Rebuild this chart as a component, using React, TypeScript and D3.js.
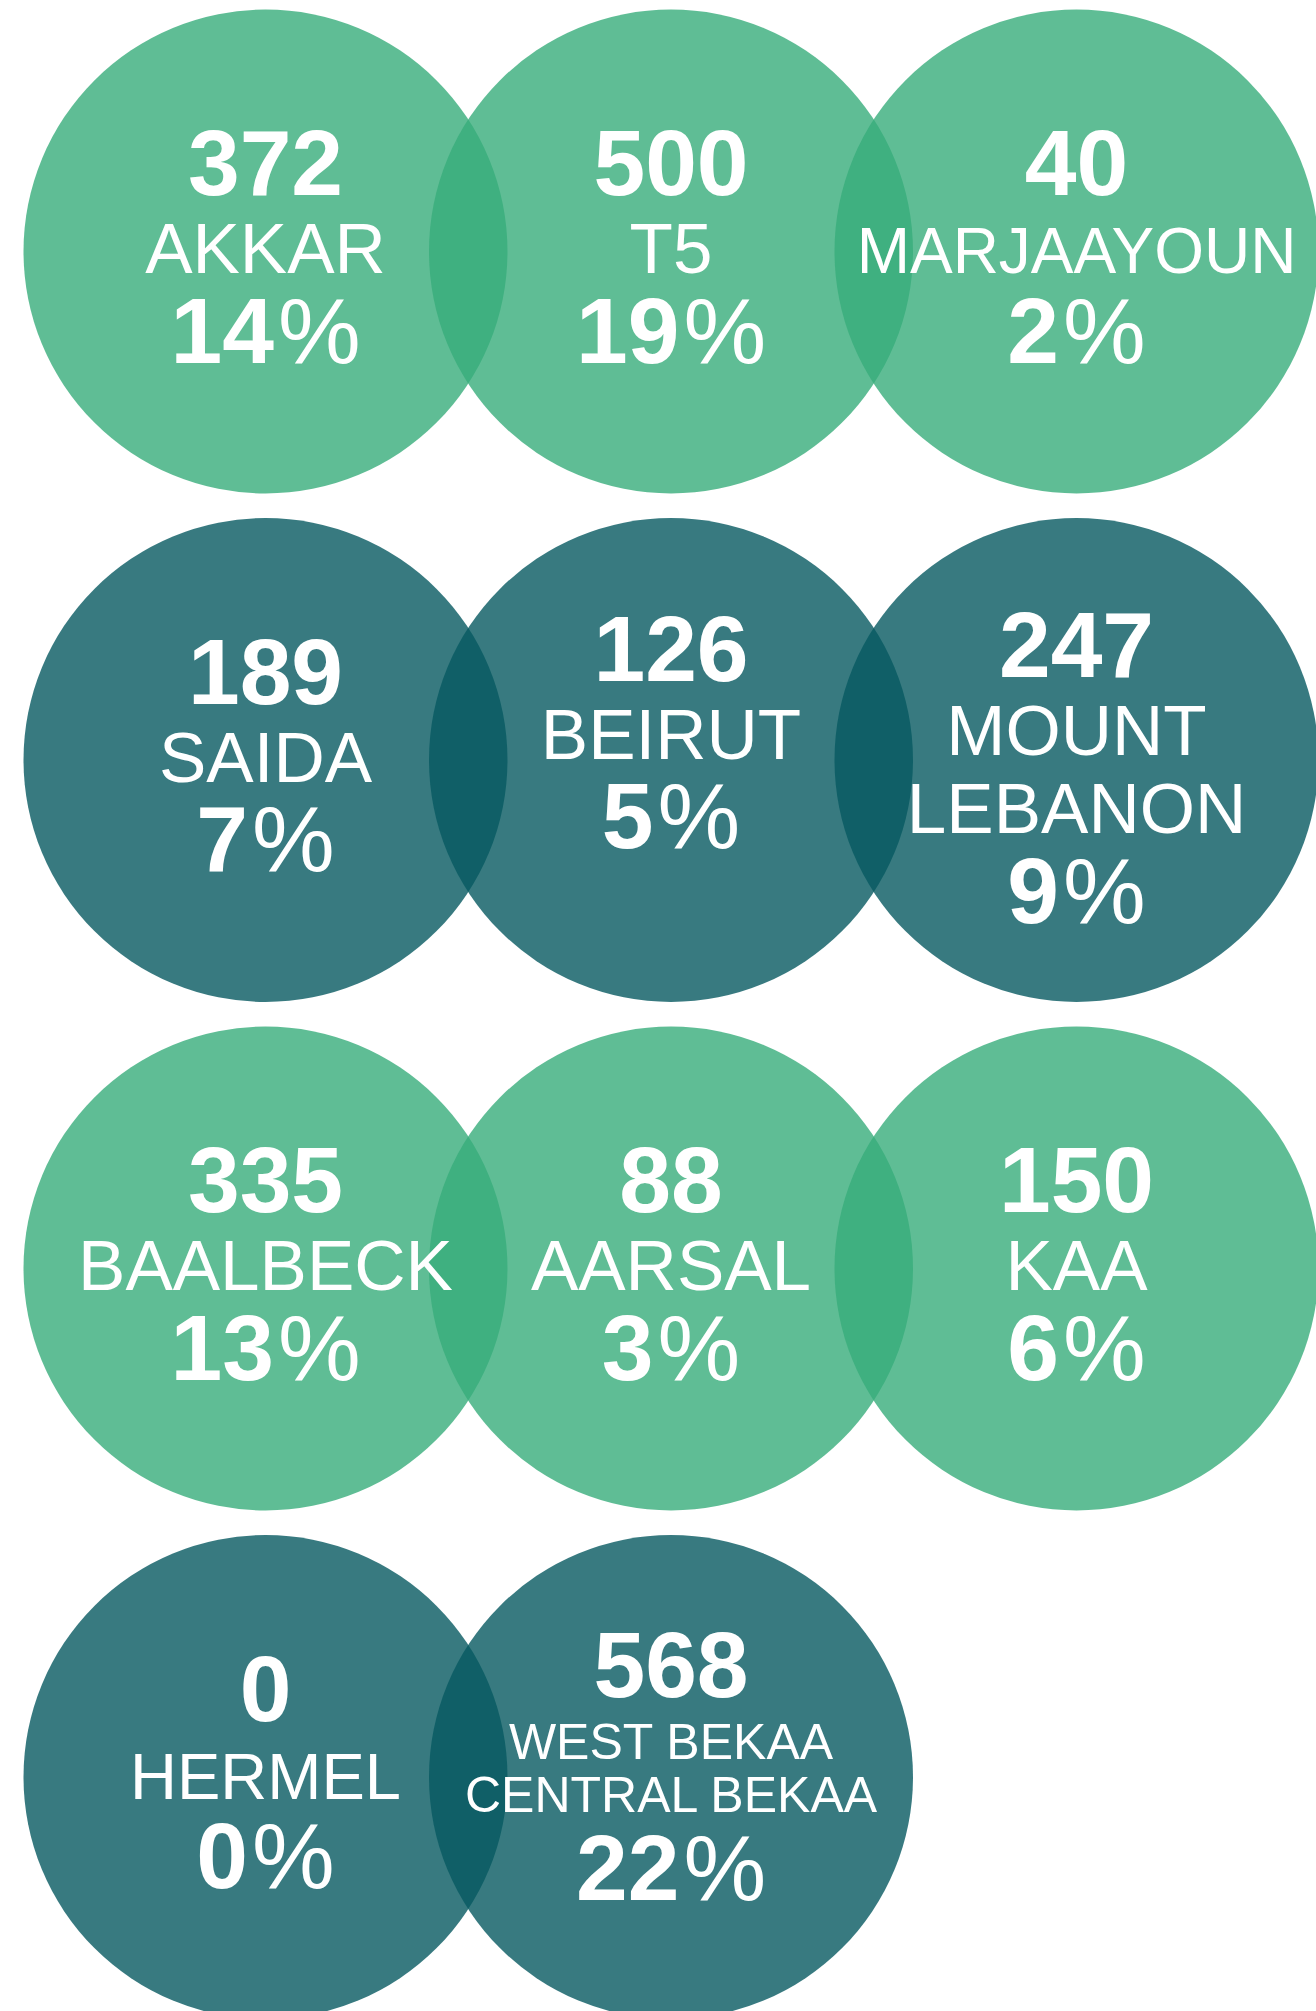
import React from "react";
import * as d3 from "d3";

// ---- data ----
const regions: string[][] = [
  ["AKKAR"],
  ["T5"],
  ["MARJAAYOUN"],
  ["SAIDA"],
  ["BEIRUT"],
  ["MOUNT", "LEBANON"],
  ["BAALBECK"],
  ["AARSAL"],
  ["KAA"],
  ["HERMEL"],
  ["WEST BEKAA", "CENTRAL BEKAA"],
];
const counts: number[] = [372, 500, 40, 189, 126, 247, 335, 88, 150, 0, 568];
const percents: number[] = [14, 19, 2, 7, 5, 9, 13, 3, 6, 0, 22];
const rowGroups: string[] = ["green", "teal", "green", "teal"];

// ---- styling / layout ----
const W = 1316;
const H = 2011;
const COLS = 3;
const R = 242;
const colors: Record<string, string> = { green: "#37ac7a", teal: "#065960" };
const FONT = "'Liberation Sans', Arial, Helvetica, sans-serif";

// label font size overrides (style only)
const labelSizeOverride: Record<number, number> = { 2: 64, 9: 65, 10: 50 };
// vertical offset of the text block (style only)
const blockShift: Record<number, number> = { 4: -23 };

export default function App() {
  const x = d3.scaleLinear().domain([0, COLS - 1]).range([265.5, 1076.5]);
  const y = d3.scaleLinear().domain([0, 3]).range([251.5, 1777]);

  const items = counts.map((c, i) => ({
    count: c,
    pct: percents[i],
    label: regions[i],
    col: i % COLS,
    row: Math.floor(i / COLS),
    i,
  }));

  return (
    <svg
      width={W}
      height={H}
      viewBox={`0 0 ${W} ${H}`}
      style={{ position: "absolute", left: 0, top: 0, background: "#fff" }}
    >
      <g>
        {items.map((d) => (
          <circle
            key={"c" + d.i}
            cx={x(d.col)}
            cy={y(d.row)}
            r={R}
            fill={colors[rowGroups[d.row]]}
            fillOpacity={0.8}
          />
        ))}
      </g>
      <g fill="#fff" textAnchor="middle" fontFamily={FONT}>
        {items.map((d) => {
          const cx = x(d.col);
          const cy = y(d.row);
          const n = d.label.length;
          const lsize = labelSizeOverride[d.i] ?? 71;
          let numY: number;
          let labelYs: number[];
          let pctY: number;
          if (n === 1) {
            const s = blockShift[d.i] ?? 0;
            numY = -56.5 + s;
            labelYs = [21.5 + s];
            pctY = 111 + s;
          } else if (lsize < 60) {
            numY = -80;
            labelYs = [-18, 35];
            pctY = 123;
          } else {
            numY = -83;
            labelYs = [-5, 73];
            pctY = 163;
          }
          return (
            <g key={"t" + d.i} transform={`translate(${cx},${cy})`}>
              <text y={numY} fontSize={93} fontWeight={700}>
                {d.count}
              </text>
              {d.label.map((l, k) => (
                <text key={k} y={labelYs[k]} fontSize={lsize} fontWeight={400}>
                  {l}
                </text>
              ))}
              <text y={pctY} fontSize={93} fontWeight={700}>
                {d.pct}
                <tspan fontWeight={400} dx={4}>%</tspan>
              </text>
            </g>
          );
        })}
      </g>
    </svg>
  );
}
